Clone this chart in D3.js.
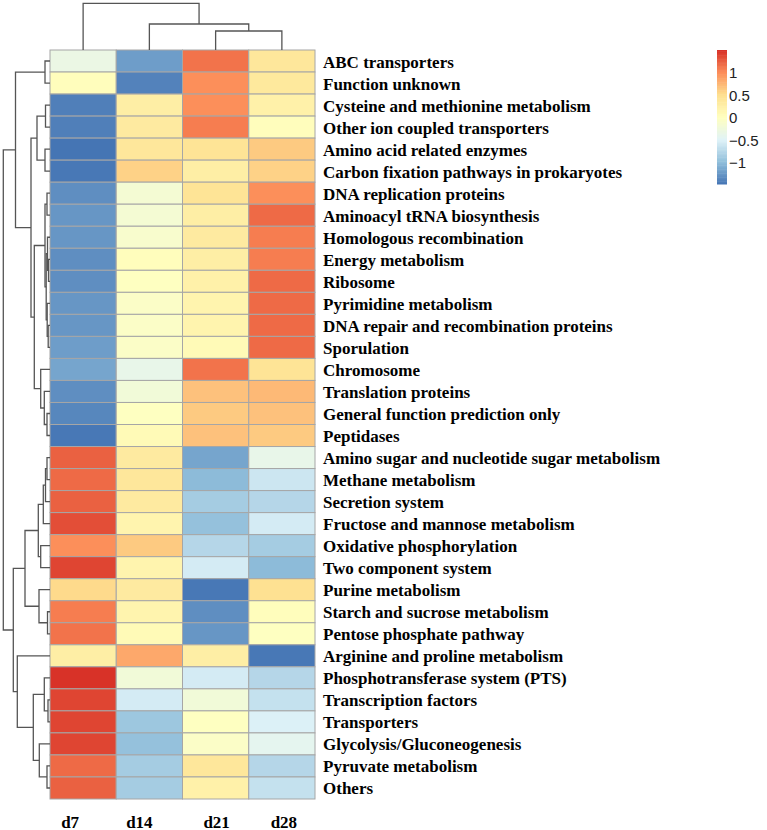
<!DOCTYPE html>
<html><head><meta charset="utf-8">
<script src="https://cdn.jsdelivr.net/npm/d3@7"></script>
<style>body{margin:0;background:#fff}svg{display:block}</style>
</head><body><svg id="c" width="767" height="830"></svg>
<script>
const columns = ["d7","d14","d21","d28"];
const rowLabels = [
 "ABC transporters","Function unknown","Cysteine and methionine metabolism","Other ion coupled transporters",
 "Amino acid related enzymes","Carbon fixation pathways in prokaryotes","DNA replication proteins",
 "Aminoacyl tRNA biosynthesis","Homologous recombination","Energy metabolism","Ribosome",
 "Pyrimidine metabolism","DNA repair and recombination proteins","Sporulation","Chromosome",
 "Translation proteins","General function prediction only","Peptidases",
 "Amino sugar and nucleotide sugar metabolism","Methane metabolism","Secretion system",
 "Fructose and mannose metabolism","Oxidative phosphorylation","Two component system",
 "Purine metabolism","Starch and sucrose metabolism","Pentose phosphate pathway",
 "Arginine and proline metabolism","Phosphotransferase system (PTS)","Transcription factors",
 "Transporters","Glycolysis/Gluconeogenesis","Pyruvate metabolism","Others"];
const d7  = [-0.30, 0.05,-1.40,-1.40,-1.47,-1.45,-1.30,-1.25,-1.25,-1.30,-1.30,-1.25,-1.25,-1.20,-1.15,-1.30,-1.35,-1.45,
              1.25, 1.20, 1.25, 1.35, 1.00, 1.40, 0.55, 1.10, 1.15, 0.30, 1.50, 1.40, 1.40, 1.40, 1.20, 1.25];
const d14 = [-1.20,-1.38, 0.30, 0.35, 0.40, 0.60,-0.15,-0.15,-0.10, 0.05, 0.00,-0.05,-0.05,-0.05,-0.35,-0.20, 0.00, 0.10,
              0.35, 0.40, 0.35, 0.20, 0.65, 0.20, 0.35, 0.20, 0.10, 0.85,-0.20,-0.55,-0.90,-0.95,-0.85,-0.85];
const d21 = [ 1.15, 1.00, 1.00, 1.10, 0.45, 0.30, 0.45, 0.30, 0.35, 0.30, 0.25, 0.20, 0.20, 0.10, 1.15, 0.70, 0.65, 0.70,
             -1.15,-1.00,-0.85,-0.95,-0.75,-0.55,-1.45,-1.30,-1.25, 0.30,-0.55,-0.20, 0.00,-0.05, 0.40, 0.25];
const d28 = [ 0.40, 0.38, 0.25, 0.05, 0.65, 0.60, 1.00, 1.20, 1.10, 1.10, 1.20, 1.20, 1.20, 1.20, 0.45, 0.75, 0.70, 0.65,
             -0.35,-0.60,-0.75,-0.55,-0.85,-1.00, 0.50, 0.05, 0.00,-1.45,-0.75,-0.65,-0.50,-0.40,-0.75,-0.65];
const legendTicks = [-1, -0.5, 0, 0.5, 1];
const dataMin = -1.47, dataMax = 1.51;
// dendrograms: [mergeHeight, left, right]; leaves are row/column indices in display order
const rowTree = [46.7,
  [34.5, [5, 0, 1],
    [19,
      [13, [4.5, 2, 3], [5, 4, 5]],
      [15.7,
        [5, [3, 6, 7], [3.8, [2.5, 8, [1.5, 9, 10]], [2.8, 11, [1.8, 12, 13]]]],
        [9.3, 14, [5.7, 15, [3, 16, 17]]]]]],
  [36.7,
    [25,
      [11.7, [6.7, [4.5, [3, 18, 19], 20], 21], [9.3, 22, 23]],
      [11, 24, [2.5, 25, 26]]],
    [32.7, 27,
      [16.7, [5.7, 28, [2, 29, 30]], [10.7, 31, [3, 32, 33]]]]]];
const colTree = [46.7, 0, [26, 1, [19, 2, 3]]];

const palette = ["#4575b4","#91bfdb","#e0f3f8","#ffffbf","#fee090","#fc8d59","#d73027"];
const series = [d7, d14, d21, d28];

const svg = d3.select("#c");
const x = d3.scaleBand().domain(d3.range(columns.length)).range([50, 315]);
const y = d3.scaleBand().domain(d3.range(rowLabels.length)).range([50, 799]);
const color = d3.scaleLinear()
  .domain(palette.map((_, i) => dataMin + (dataMax - dataMin) * i / (palette.length - 1)))
  .range(palette).interpolate(d3.interpolateRgb).clamp(true);

// cells
const cells = [];
series.forEach((s, ci) => s.forEach((v, ri) => cells.push({ci, ri, v})));
svg.append("g").selectAll("rect").data(cells).join("rect")
  .attr("x", d => x(d.ci)).attr("y", d => y(d.ri))
  .attr("width", x.bandwidth()).attr("height", y.bandwidth())
  .attr("fill", d => color(d.v)).attr("stroke", "#a6a6a6").attr("stroke-width", 1);

// dendrograms
function drawTree(tree, leafPos, hScale, horizontal) {
  const g = svg.append("g").attr("fill", "none").attr("stroke", "#555").attr("stroke-width", 1.3);
  function walk(n) {
    if (!Array.isArray(n)) return {p: leafPos(n), h: 0};
    const a = walk(n[1]), b = walk(n[2]);
    const h = n[0], p = (a.p + b.p) / 2;
    const path = d3.path();
    const H = hScale(h);
    if (horizontal) {
      path.moveTo(hScale(a.h), a.p); path.lineTo(H, a.p); path.lineTo(H, b.p); path.lineTo(hScale(b.h), b.p);
    } else {
      path.moveTo(a.p, hScale(a.h)); path.lineTo(a.p, H); path.lineTo(b.p, H); path.lineTo(b.p, hScale(b.h));
    }
    g.append("path").attr("d", path.toString());
    return {p, h};
  }
  walk(tree);
}
const rowH = d3.scaleLinear().domain([0, rowTree[0]]).range([50, 3.3]);
drawTree(rowTree, i => y(i) + y.bandwidth() / 2, rowH, true);
const colH = d3.scaleLinear().domain([0, colTree[0]]).range([50, 3.3]);
drawTree(colTree, i => x(i) + x.bandwidth() / 2, colH, false);

// row labels
svg.append("g").selectAll("text").data(rowLabels).join("text")
  .attr("x", 323).attr("y", (d, i) => y(i) + y.bandwidth() / 2 + 1)
  .attr("dominant-baseline", "central")
  .attr("font-family", "Liberation Serif, Times New Roman, serif").attr("font-weight", "bold")
  .attr("font-size", 17).attr("fill", "#000").text(d => d);

// column labels
const colNudge = [-13, -10, 1, 2];
svg.append("g").selectAll("text").data(columns).join("text")
  .attr("x", (d, i) => x(i) + x.bandwidth() / 2 + colNudge[i]).attr("y", 822)
  .attr("text-anchor", "middle").attr("dominant-baseline", "central")
  .attr("font-family", "Liberation Serif, Times New Roman, serif").attr("font-weight", "bold")
  .attr("font-size", 17).attr("fill", "#000").text(d => d);

// legend
const ly = d3.scaleLinear().domain([dataMin, dataMax]).range([184, 50]);
const nSteps = 100;
const steps = d3.range(nSteps).map(i => dataMin + (dataMax - dataMin) * i / nSteps);
const stepH = (dataMax - dataMin) / nSteps;
svg.append("g").selectAll("rect").data(steps).join("rect")
  .attr("x", 717).attr("width", 10)
  .attr("y", d => ly(d + stepH)).attr("height", d => ly(d) - ly(d + stepH) + 0.5)
  .attr("fill", d => color(d + stepH / 2));
svg.append("g").selectAll("text").data(legendTicks).join("text")
  .attr("x", 729).attr("y", d => ly(d))
  .attr("dominant-baseline", "central")
  .attr("font-family", "Liberation Sans, Arial, sans-serif").attr("font-size", 15).attr("fill", "#222")
  .text(d => d3.format("")(d).replace("-", "\u2212"));
</script></body></html>
